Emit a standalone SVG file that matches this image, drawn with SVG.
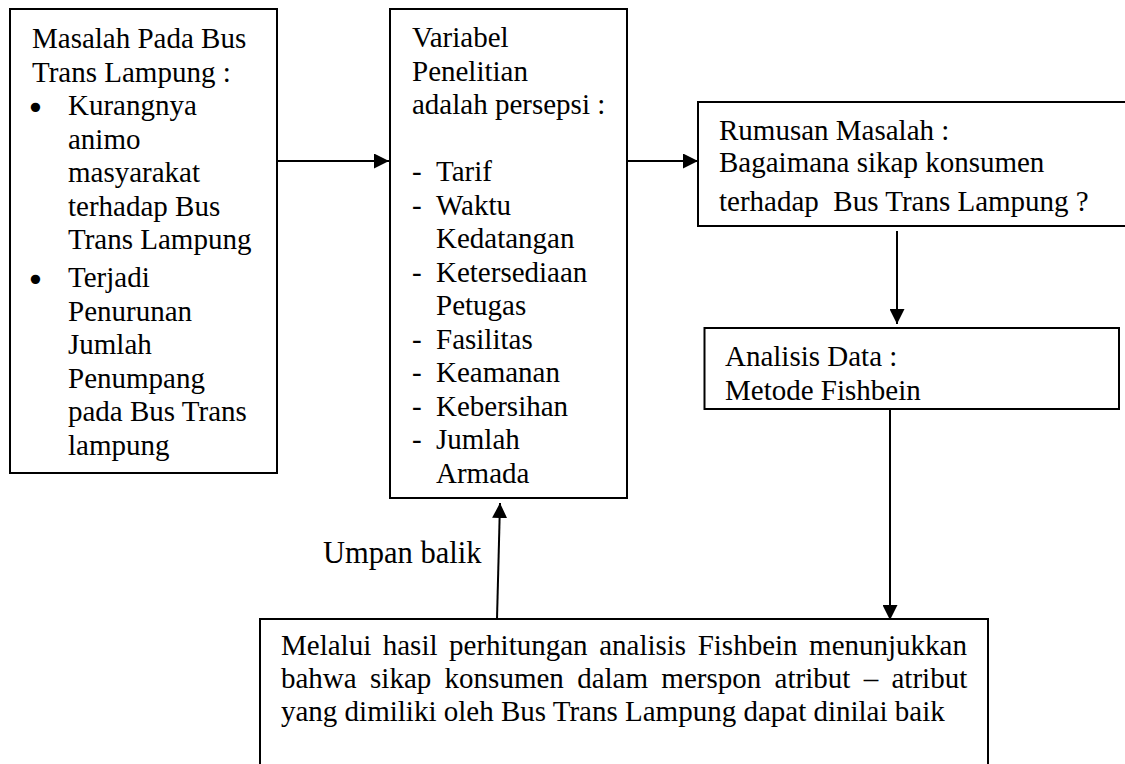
<svg xmlns="http://www.w3.org/2000/svg" width="1125" height="764" viewBox="0 0 1125 764">
<style>
  .box { fill: #ffffff; stroke: #000000; stroke-width: 2; }
  .t { font-family: "Liberation Serif", "Times New Roman", serif; font-size: 29px; fill: #000000; }
  .conn { stroke: #000000; stroke-width: 2; fill: none; marker-end: url(#arrow); }
  .bul { font-family: "DejaVu Sans", sans-serif; font-size: 32px; fill: #000000; }
</style>
<defs>
  <marker id="arrow" markerUnits="userSpaceOnUse" markerWidth="16" markerHeight="15" refX="15" refY="7.5" orient="auto">
    <path d="M0,0 L15,7.5 L0,15 z" fill="#000000"/>
  </marker>
</defs>
<rect width="1125" height="764" fill="#ffffff"/>

<g id="connectors">
  <line class="conn" x1="277" y1="161" x2="389" y2="161"/>
  <line class="conn" x1="627" y1="161" x2="698" y2="161"/>
  <line class="conn" x1="897" y1="231" x2="897" y2="324"/>
  <line class="conn" x1="890" y1="409" x2="890" y2="620"/>
  <line class="conn" x1="497" y1="619" x2="500" y2="503"/>
  <text id="label-umpan-balik" class="t" x="323" y="563" style="font-size:30.5px">Umpan balik</text>
</g>

<g id="node-masalah">
  <rect class="box" x="10" y="9" width="267" height="464"/>
  <text class="t" x="32" y="48">Masalah Pada Bus</text>
  <text class="t" x="32" y="81.5">Trans Lampung :</text>
  <text class="bul" x="26" y="118.5">•</text>
  <text class="t" x="68" y="115">Kurangnya</text>
  <text class="t" x="68" y="148.5">animo</text>
  <text class="t" x="68" y="182">masyarakat</text>
  <text class="t" x="68" y="215.5">terhadap Bus</text>
  <text class="t" x="68" y="249">Trans Lampung</text>
  <text class="bul" x="26" y="290.5">•</text>
  <text class="t" x="68" y="287">Terjadi</text>
  <text class="t" x="68" y="320.5">Penurunan</text>
  <text class="t" x="68" y="354">Jumlah</text>
  <text class="t" x="68" y="387.5">Penumpang</text>
  <text class="t" x="68" y="421">pada Bus Trans</text>
  <text class="t" x="68" y="454.5">lampung</text>
</g>

<g id="node-variabel">
  <rect class="box" x="390" y="9" width="237" height="489"/>
  <text class="t" x="412" y="47">Variabel</text>
  <text class="t" x="412" y="80.5">Penelitian</text>
  <text class="t" x="412" y="114">adalah persepsi :</text>
  <text class="t" x="412" y="181">-</text><text class="t" x="436" y="181">Tarif</text>
  <text class="t" x="412" y="214.5">-</text><text class="t" x="436" y="214.5">Waktu</text>
  <text class="t" x="436" y="248">Kedatangan</text>
  <text class="t" x="412" y="281.5">-</text><text class="t" x="436" y="281.5">Ketersediaan</text>
  <text class="t" x="436" y="315">Petugas</text>
  <text class="t" x="412" y="348.5">-</text><text class="t" x="436" y="348.5">Fasilitas</text>
  <text class="t" x="412" y="382">-</text><text class="t" x="436" y="382">Keamanan</text>
  <text class="t" x="412" y="415.5">-</text><text class="t" x="436" y="415.5">Kebersihan</text>
  <text class="t" x="412" y="449">-</text><text class="t" x="436" y="449">Jumlah</text>
  <text class="t" x="436" y="482.5">Armada</text>
</g>

<g id="node-rumusan">
  <rect class="box" x="698" y="102" width="440" height="124"/>
  <text class="t" x="719" y="140">Rumusan Masalah :</text>
  <text class="t" x="719" y="172">Bagaimana sikap konsumen</text>
  <text class="t" x="719" y="211" xml:space="preserve">terhadap  Bus Trans Lampung ?</text>
</g>

<g id="node-analisis">
  <rect class="box" x="704.5" y="328" width="414.5" height="81"/>
  <text class="t" x="725" y="366">Analisis Data :</text>
  <text class="t" x="725" y="400">Metode Fishbein</text>
</g>

<g id="node-hasil">
  <rect class="box" x="260" y="619" width="728" height="160"/>
  <text class="t" x="281" y="655" word-spacing="4.3">Melalui hasil perhitungan analisis Fishbein menunjukkan</text>
  <text class="t" x="281" y="688" word-spacing="6.1">bahwa sikap konsumen dalam merspon atribut – atribut</text>
  <text class="t" x="281" y="721">yang dimiliki oleh Bus Trans Lampung dapat dinilai baik</text>
</g>
</svg>
